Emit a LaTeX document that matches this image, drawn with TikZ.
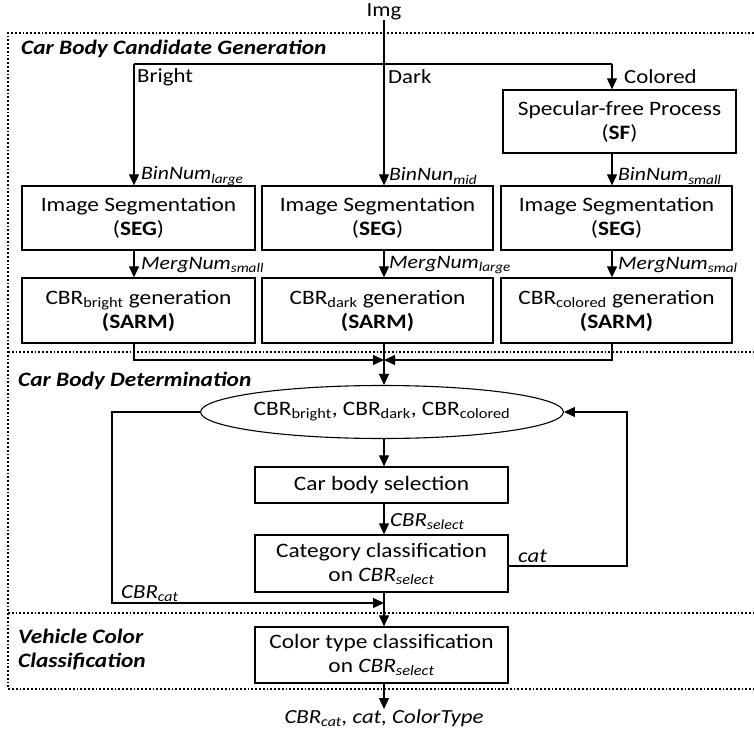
\documentclass[tikz,border=0pt]{standalone}
\usepackage{fontspec}
\setmainfont{Carlito}[FakeStretch=1.14]
\usetikzlibrary{arrows.meta,shapes.geometric}
\newcommand{\lsub}[1]{\textsubscript{#1}}
\tikzset{
  box/.style={draw, line width=1.3pt, align=center, inner sep=0pt,
    font=\fontsize{20.5}{24}\selectfont},
  arr/.style={line width=1.1pt, -{Triangle[length=11pt,width=10pt]}},
  ln/.style={line width=1.1pt},
  lbl/.style={anchor=west, inner sep=0pt, font=\fontsize{20}{24}\selectfont},
  ilbl/.style={anchor=west, inner sep=0pt, font=\fontsize{19}{22}\selectfont\itshape},
  jlbl/.style={anchor=west, inner sep=0pt, font=\fontsize{20}{24}\selectfont\itshape},
  sect/.style={anchor=west, inner sep=0pt, align=left,
    font=\fontsize{20.5}{24}\selectfont\bfseries\itshape},
  dotframe/.style={line width=1.8pt, dash pattern=on 1.8pt off 2pt},
}
\begin{document}
\begin{tikzpicture}[x=1pt,y=-1pt]
\useasboundingbox (0,0) rectangle (754,735);

% frame
\draw[dotframe] (754,33) -- (8,33) -- (8,689) -- (754,689);
\draw[dotframe] (8,352) -- (754,352);
\draw[dotframe] (8,613) -- (754,613);

% section titles
\node[sect] (t1) at (21,49) {Car Body Candidate Generation};
\node[sect] (t2) at (18,381) {Car Body Determination};
\node[sect] (t3) at (18,650) {Vehicle Color\\Classification};

% nodes
\node[inner sep=0pt, font=\fontsize{20}{24}\selectfont] (img) at (384,12) {Img};
\node[box, minimum width=233pt, minimum height=63pt] (sf) at (619.5,121.5)
  {Specular-free Process\\(\textbf{SF})};
\node[box, minimum width=233pt, minimum height=64pt] (seg1) at (138.5,218)
  {Image Segmentation\\(\textbf{SEG})};
\node[box, minimum width=231pt, minimum height=64pt] (seg2) at (377.5,218)
  {Image Segmentation\\(\textbf{SEG})};
\node[box, minimum width=231pt, minimum height=64pt] (seg3) at (616.5,218)
  {Image Segmentation\\(\textbf{SEG})};
\node[box, minimum width=233pt, minimum height=65pt] (sarm1) at (138.5,310.5)
  {CBR\lsub{bright} generation\\\textbf{(SARM)}};
\node[box, minimum width=231pt, minimum height=65pt] (sarm2) at (377.5,310.5)
  {CBR\lsub{dark} generation\\\textbf{(SARM)}};
\node[box, minimum width=231pt, minimum height=65pt] (sarm3) at (616.5,310.5)
  {CBR\lsub{colored} generation\\\textbf{(SARM)}};
\node[draw, ellipse, line width=1.1pt, inner sep=0pt, minimum width=328pt, minimum height=53pt,
  font=\fontsize{20.5}{24}\selectfont] (ell) at (382,412)
  {CBR\lsub{bright}, CBR\lsub{dark}, CBR\lsub{colored}};
\node[box, minimum width=253pt, minimum height=36pt] (sel) at (381.5,485)
  {Car body selection};
\node[box, minimum width=253pt, minimum height=57pt] (cat) at (381.5,563.5)
  {Category classification\\on \textit{CBR\lsub{select}}};
\node[box, minimum width=253pt, minimum height=56pt] (col) at (381.5,655)
  {Color type classification\\on \textit{CBR\lsub{select}}};
\node[inner sep=0pt, anchor=north, font=\fontsize{20}{24}\selectfont\itshape] (out) at (384,709)
  {CBR\lsub{cat}, cat, ColorType};

% coordinates
\coordinate (bl) at (134,64);
\coordinate (cl) at (612,64);
\coordinate (mj) at (384,360);
\coordinate (ll) at (112,412);
\coordinate (lb) at (112,603);
\coordinate (rr) at (627,566);

% top split
\draw[arr] (img.south) -- (img.south |- seg2.north);
\draw[ln] (bl) -- (cl);
\draw[arr] (bl) -- (bl |- seg1.north);
\draw[arr] (cl) -- (cl |- sf.north);
\draw[arr] (cl |- sf.south) -- (cl |- seg3.north);
\draw[arr] (bl |- seg1.south) -- (bl |- sarm1.north);
\draw[arr] (img |- seg2.south) -- (img |- sarm2.north);
\draw[arr] (cl |- seg3.south) -- (cl |- sarm3.north);

% merge
\draw[arr] (bl |- sarm1.south) |- (mj);
\draw[arr] (cl |- sarm3.south) |- (mj);
\draw[arr] (img |- sarm2.south) -- (img |- ell.north);

% determination
\draw[arr] (img |- ell.south) -- (img |- sel.north);
\draw[arr] (img |- sel.south) -- (img |- cat.north);
\draw[arr] (img |- cat.south) -- (img |- col.north);
\draw[arr] (img |- col.south) -- (out.north);
\draw[arr] (ell.west) -- (ll) -- (lb) -- (img |- lb);
\draw[arr] (cat.east |- rr) -- (rr) -- (rr |- ell.east) -- (ell.east);

% labels
\node[lbl] (lbright) at (137,77) {Bright};
\node[lbl] (ldark) at (388,77) {Dark};
\node[lbl] (lcol) at (624,77) {Colored};
\node[ilbl] (b1) at (141,176) {BinNum\lsub{large}};
\node[ilbl] (b2) at (389,176) {BinNun\lsub{mid}};
\node[ilbl] (b3) at (618,176) {BinNum\lsub{small}};
\node[ilbl] (m1) at (141,265) {MergNum\lsub{small}};
\node[ilbl] (m2) at (389,265) {MergNum\lsub{large}};
\node[ilbl] (m3) at (618,265) {MergNum\lsub{smal}};
\node[jlbl] (lsel) at (390,522) {CBR\lsub{select}};
\node[jlbl] (lcat) at (518,556) {cat};
\node[jlbl] (lcbr) at (121,594) {CBR\lsub{cat}};
\end{tikzpicture}
\end{document}
